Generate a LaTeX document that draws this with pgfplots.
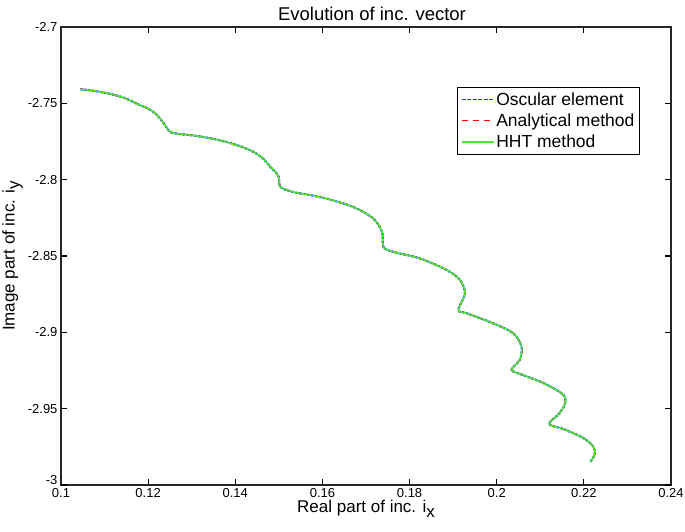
\documentclass[border=0pt]{standalone}
\usepackage{fontspec}
\setmainfont{Liberation Sans}
\usepackage{pgfplots}
\pgfplotsset{compat=1.18}
\usepackage{pgfplotstable}
\definecolor{mblue}{RGB}{20,60,255}
\definecolor{mred}{RGB}{255,0,0}
\definecolor{mgreen}{RGB}{70,230,50}

% locus of the increment vector
\pgfplotstableread{
x y
0.1044 -2.7407
0.1080 -2.7420
0.1114 -2.7439
0.1146 -2.7465
0.1176 -2.7505
0.1200 -2.7535
0.1218 -2.7570
0.1230 -2.7610
0.1237 -2.7635
0.1245 -2.7670
0.1252 -2.7690
0.1275 -2.7702
0.1305 -2.7711
0.1345 -2.7730
0.1382 -2.7755
0.1415 -2.7785
0.1443 -2.7820
0.1465 -2.7865
0.1481 -2.7918
0.1494 -2.7955
0.1500 -2.7984
0.1504 -2.8049
0.1534 -2.8082
0.1570 -2.8100
0.1611 -2.8125
0.1672 -2.8180
0.1717 -2.8255
0.1737 -2.8343
0.1740 -2.8441
0.1763 -2.8473
0.1824 -2.8516
0.1886 -2.8593
0.1916 -2.8658
0.1927 -2.8745
0.1912 -2.8854
0.1931 -2.8875
0.1992 -2.8941
0.2038 -2.9006
0.2057 -2.9093
0.2053 -2.9180
0.2034 -2.9245
0.2053 -2.9272
0.2107 -2.9332
0.2153 -2.9409
0.2156 -2.9474
0.2141 -2.9539
0.2120 -2.9600
0.2153 -2.9633
0.2198 -2.9691
0.2221 -2.9746
0.2225 -2.9800
0.2214 -2.9850
}\locus

\begin{document}
\begin{tikzpicture}
\useasboundingbox (0,0) rectangle (685pt,531pt);
\begin{axis}[
  at={(61pt,46pt)}, anchor=south west,
  width=610pt, height=458pt, scale only axis,
  xmin=0.1, xmax=0.24, ymin=-3, ymax=-2.7,
  xtick={0.1,0.12,...,0.24},
  ytick={-2.95,-2.9,...,-2.7},
  extra y ticks={-3},
  extra y tick style={yticklabel style={yshift=5pt}},
  /pgf/number format/assume math mode=true,
  /pgf/number format/precision=3,
  xticklabel style={/pgf/number format/fixed},
  yticklabel style={/pgf/number format/fixed},
  tick label style={font=\fontsize{13}{15}\selectfont},
  tick align=inside, major tick length=6pt,
  tick style={black, line width=1.2pt},
  axis line style={line width=1.5pt, black!85},
  xtick pos=both, ytick pos=both,
  title={Evolution of inc. vector},
  title style={font=\fontsize{18.5}{20}\selectfont, yshift=-3pt, xshift=6pt},
  xlabel={Real part of inc. i\raisebox{-0.55ex}{x}},
  ylabel={Image part of inc. i\raisebox{-0.55ex}{y}},
  label style={font=\fontsize{17}{19}\selectfont},
  xlabel style={yshift=4pt},
  ylabel style={yshift=-2pt},
  legend style={at={(0.949,0.869)}, anchor=north east,
    font=\fontsize{17.5}{19}\selectfont, draw=black, line width=1pt,
    inner sep=3pt, row sep=3pt},
  legend cell align=left,
  legend image code/.code={\draw[line width=1.3pt, #1] (0pt,0pt) -- (32pt,0pt);},
]
\addplot[color=mblue, line width=2.2pt, dash pattern=on 2.5pt off 1.5pt, smooth, tension=0.5,
  legend image code/.code={\draw[draw=mblue, line width=1.5pt, dash pattern=on 4pt off 1.5pt] (0pt,0pt) -- (32pt,0pt);}]
  table[x=x,y=y] {\locus};
\addlegendentry{Oscular element}
\addplot[color=mred, line width=1.4pt, dash pattern=on 6pt off 5pt, smooth, tension=0.5] table[x=x,y=y] {\locus};
\addlegendentry{Analytical method}
\addplot[color=mgreen, line width=1.5pt, smooth, tension=0.5] table[x=x,y=y] {\locus};
\addlegendentry{HHT method}
\end{axis}
\end{tikzpicture}
\end{document}
